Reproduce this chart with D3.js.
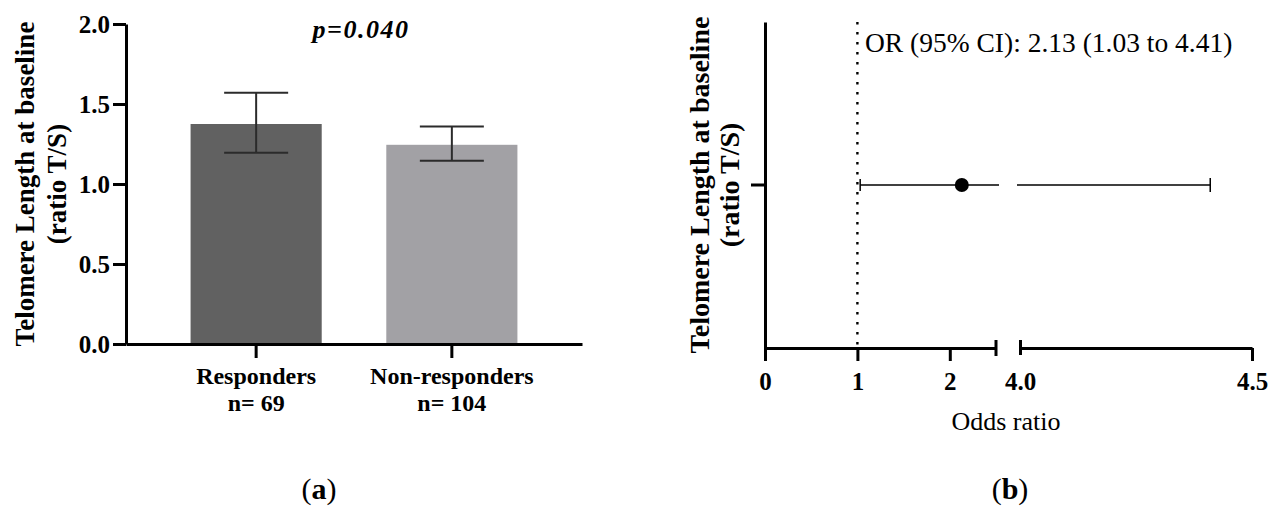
<!DOCTYPE html>
<html>
<head>
<meta charset="utf-8">
<script src="https://cdn.jsdelivr.net/npm/d3@7"></script>
<style>
  body { margin: 0; background: #fff; }
  svg { display: block; font-family: "Liberation Serif", "Times New Roman", serif; }
  .axis path, .axis line { stroke: #000; stroke-width: 3; }
  .axis text { font-family: "Liberation Serif", "Times New Roman", serif; font-size: 25px; font-weight: bold; fill: #000; }
</style>
</head>
<body>
<div id="chart"></div>
<script>
// Panel (a): telomere length by group
const groups = ["Responders", "Non-responders"];
const groupN = ["n= 69", "n= 104"];
const meanTL = [1.375, 1.245];
const errLow = [1.195, 1.145];
const errHigh = [1.57, 1.36];
const barColors = ["#616161", "#a2a1a5"];
const yTicksA = [0, 0.5, 1.0, 1.5, 2.0];
const pLabel = "p=0.040";

// Panel (b): odds ratio with broken x axis
const orPoint = [2.13];
const orLow = [1.03];
const orHigh = [4.41];
const orRows = ["Telomere Length"];
const xTicksLow = [0, 1, 2];
const xTicksHigh = [4.0, 4.5];
const xBreak = [2.5, 4.0];
const refValue = 1;
const orText = "OR (95% CI): 2.13 (1.03 to 4.41)";

const svg = d3.select("#chart").append("svg")
  .attr("width", 1268)
  .attr("height", 506);

// ---------- panel (a) ----------
const yA = d3.scaleLinear().domain([0, 2]).range([344, 24]);
const xA = d3.scaleBand().domain(groups).range([126, 582]).padding(0.33);

svg.selectAll(".bar")
  .data(groups)
  .enter()
  .append("rect")
  .attr("class", "bar")
  .attr("x", d => xA(d))
  .attr("width", xA.bandwidth())
  .attr("y", (d, i) => yA(meanTL[i]))
  .attr("height", (d, i) => yA(0) - yA(meanTL[i]))
  .attr("fill", (d, i) => barColors[i]);

// error bars
const capW = 32;
groups.forEach((g, i) => {
  const cx = xA(g) + xA.bandwidth() / 2;
  const eb = svg.append("g").attr("stroke", "#2b2b2b").attr("stroke-width", 2);
  eb.append("line").attr("x1", cx).attr("x2", cx).attr("y1", yA(errLow[i])).attr("y2", yA(errHigh[i]));
  eb.append("line").attr("x1", cx - capW).attr("x2", cx + capW).attr("y1", yA(errLow[i])).attr("y2", yA(errLow[i]));
  eb.append("line").attr("x1", cx - capW).attr("x2", cx + capW).attr("y1", yA(errHigh[i])).attr("y2", yA(errHigh[i]));
});

// axes
svg.append("g")
  .attr("class", "axis")
  .attr("transform", "translate(126,0)")
  .call(d3.axisLeft(yA).tickValues(yTicksA).tickFormat(d3.format(".1f")).tickSize(13).tickSizeOuter(0).tickPadding(3));

svg.append("g")
  .attr("class", "axis")
  .attr("transform", "translate(0,344)")
  .call(d3.axisBottom(xA).tickSize(14).tickSizeOuter(0).tickFormat(""));

groups.forEach((g, i) => {
  const cx = xA(g) + xA.bandwidth() / 2;
  const t = svg.append("text")
    .attr("y", 384)
    .attr("text-anchor", "middle")
    .style("font-size", "24px")
    .style("font-weight", "bold");
  t.append("tspan").attr("x", cx).text(g);
  t.append("tspan").attr("x", cx).attr("dy", 27).text(groupN[i]);
});

// y title (a)
const yTitleA = svg.append("text")
  .attr("transform", "translate(0,184) rotate(-90)")
  .attr("text-anchor", "middle")
  .style("font-size", "27px")
  .style("font-weight", "bold");
yTitleA.append("tspan").attr("x", 0).attr("y", 34).text("Telomere Length at baseline");
yTitleA.append("tspan").attr("x", 0).attr("y", 66).text("(ratio T/S)");

svg.append("text")
  .attr("x", 361)
  .attr("y", 38)
  .attr("text-anchor", "middle")
  .style("font-size", "26px")
  .style("font-weight", "bold")
  .style("font-style", "italic")
  .style("letter-spacing", "1.5px")
  .text(pLabel);

svg.append("text")
  .attr("x", 319)
  .attr("y", 499)
  .attr("text-anchor", "middle")
  .style("font-size", "30px")
  .html('(<tspan font-weight="bold">a</tspan>)');

// ---------- panel (b) ----------
const xLow = d3.scaleLinear().domain([0, xBreak[0]]).range([765, 996]);
const xHigh = d3.scaleLinear().domain([xBreak[1], 4.5]).range([1020, 1252]);
const yB = d3.scaleBand().domain(orRows).range([348, 22]);
const rowY = yB(orRows[0]) + yB.bandwidth() / 2;

// reference line at OR = 1
svg.append("line")
  .attr("x1", xLow(refValue)).attr("x2", xLow(refValue))
  .attr("y1", 22).attr("y2", 348)
  .attr("stroke", "#000")
  .attr("stroke-width", 2.4)
  .attr("stroke-dasharray", "2.4,7.6");

// y axis (b)
svg.append("g")
  .attr("class", "axis")
  .attr("transform", "translate(765,0)")
  .call(d3.axisLeft(yB).tickSize(14).tickSizeOuter(0).tickFormat(""));

// broken x axis
svg.append("g")
  .attr("class", "axis")
  .attr("transform", "translate(0,348)")
  .call(d3.axisBottom(xLow).tickValues(xTicksLow).tickFormat(d3.format("d")).tickSize(13).tickSizeOuter(0).tickPadding(11));

const xAxisHigh = svg.append("g")
  .attr("class", "axis")
  .attr("transform", "translate(0,348)")
  .call(d3.axisBottom(xHigh).tickValues(xTicksHigh).tickFormat(d3.format(".1f")).tickSize(13).tickSizeOuter(0).tickPadding(11));

// break caps
svg.append("line")
  .attr("x1", xLow(xBreak[0])).attr("x2", xLow(xBreak[0]))
  .attr("y1", 340).attr("y2", 356)
  .attr("stroke", "#000").attr("stroke-width", 3);
xAxisHigh.selectAll(".tick line")
  .filter(d => d === xBreak[1])
  .attr("y1", -8).attr("y2", 7);

svg.append("text")
  .attr("x", 1006)
  .attr("y", 430)
  .attr("text-anchor", "middle")
  .style("font-size", "26px")
  .text("Odds ratio");

// CI whisker, split across the break
orRows.forEach((r, i) => {
  const g = svg.append("g").attr("stroke", "#000").attr("stroke-width", 1.5);
  g.append("line").attr("x1", xLow(orLow[i])).attr("x2", xLow(xBreak[0]) + 3).attr("y1", rowY).attr("y2", rowY);
  g.append("line").attr("x1", xHigh(xBreak[1]) - 3).attr("x2", xHigh(orHigh[i])).attr("y1", rowY).attr("y2", rowY);
  g.append("line").attr("x1", xLow(orLow[i])).attr("x2", xLow(orLow[i])).attr("y1", rowY - 6).attr("y2", rowY + 6);
  g.append("line").attr("x1", xHigh(orHigh[i])).attr("x2", xHigh(orHigh[i])).attr("y1", rowY - 7).attr("y2", rowY + 7);
  svg.append("circle")
    .attr("cx", xLow(orPoint[i]))
    .attr("cy", rowY)
    .attr("r", 7)
    .attr("fill", "#000");
});

svg.append("text")
  .attr("x", 865)
  .attr("y", 52)
  .style("font-size", "27.5px")
  .text(orText);

// y title (b)
const yTitleB = svg.append("text")
  .attr("transform", "translate(0,185) rotate(-90)")
  .attr("text-anchor", "middle")
  .style("font-size", "28px")
  .style("font-weight", "bold");
yTitleB.append("tspan").attr("x", 0).attr("y", 709).text("Telomere Length at baseline");
yTitleB.append("tspan").attr("x", 0).attr("y", 739).text("(ratio T/S)");

svg.append("text")
  .attr("x", 1010)
  .attr("y", 499)
  .attr("text-anchor", "middle")
  .style("font-size", "30px")
  .html('(<tspan font-weight="bold">b</tspan>)');
</script>
</body>
</html>
